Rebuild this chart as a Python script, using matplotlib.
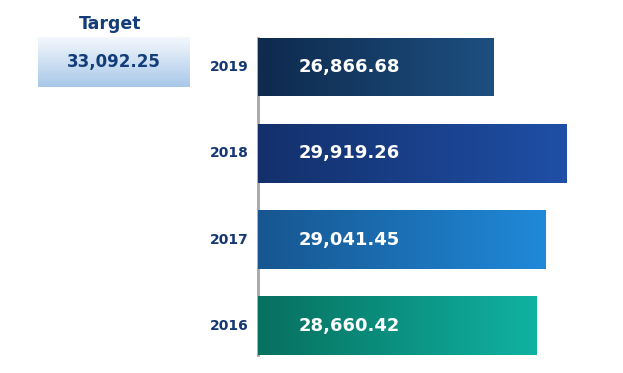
import numpy as np
import matplotlib.pyplot as plt
from matplotlib.colors import LinearSegmentedColormap

years = ['2016', '2017', '2018', '2019']
values = [28660.42, 29041.45, 29919.26, 26866.68]
target = 33092.25
bar_colors = [('#07705f', '#10b2a2'),
               ('#175690', '#2089d9'),
               ('#13306b', '#1f4fa6'),
               ('#0e2a4d', '#1d4f80')]

fig = plt.figure(figsize=(6.23, 3.73), dpi=100)
ax = fig.add_axes([258 / 623, 1 - 355.4 / 373, 342 / 623, 317.8 / 373])
ax.set_xlim(17067, 31294)
ax.set_ylim(-0.34, 3.34)

grad = np.linspace(0, 1, 256).reshape(1, -1)
h = 0.68
for i, (yr, v, (c0, c1)) in enumerate(zip(years, values, bar_colors)):
    cmap = LinearSegmentedColormap.from_list(yr, [c0, c1])
    ax.imshow(grad, cmap=cmap, aspect='auto', interpolation='bicubic',
              extent=(ax.get_xlim()[0], v, i - h / 2, i + h / 2), zorder=2)
    ax.text(0.268, i, f'{v:,.2f}', transform=ax.get_yaxis_transform(),
            ha='center', va='center', color='white', fontsize=13,
            fontweight='bold', zorder=3)
    ax.text(-0.085, i, yr, transform=ax.get_yaxis_transform(),
            ha='center', va='center', color='#143772', fontsize=10,
            fontweight='bold')

ax.set_xlim(17067, 31294)
ax.set_ylim(-0.34, 3.34)
for s in ['top', 'right', 'bottom']:
    ax.spines[s].set_visible(False)
ax.spines['left'].set_color('#a6a6a6')
ax.spines['left'].set_linewidth(2)
ax.spines['left'].set_zorder(1)
ax.set_xticks([])
ax.set_yticks([])
ax.patch.set_alpha(0)

# target box
tax = fig.add_axes([38 / 623, 1 - 87 / 373, 152 / 623, 50 / 373])
tcmap = LinearSegmentedColormap.from_list('t', ['#f4f8fd', '#a8c8e8'])
tax.imshow(np.linspace(0, 1, 256).reshape(-1, 1), cmap=tcmap, aspect='auto',
           extent=(0, 1, 0, 1), interpolation='bicubic')
tax.text(0.5, 0.5, f'{target:,.2f}', ha='center', va='center',
         color='#123d78', fontsize=12, fontweight='bold')
tax.axis('off')

fig.text(110 / 623, 1 - 24 / 373, 'Target', ha='center', va='center',
         color='#123d78', fontsize=12.5, fontweight='bold')

fig.savefig('out.png', dpi=100)
